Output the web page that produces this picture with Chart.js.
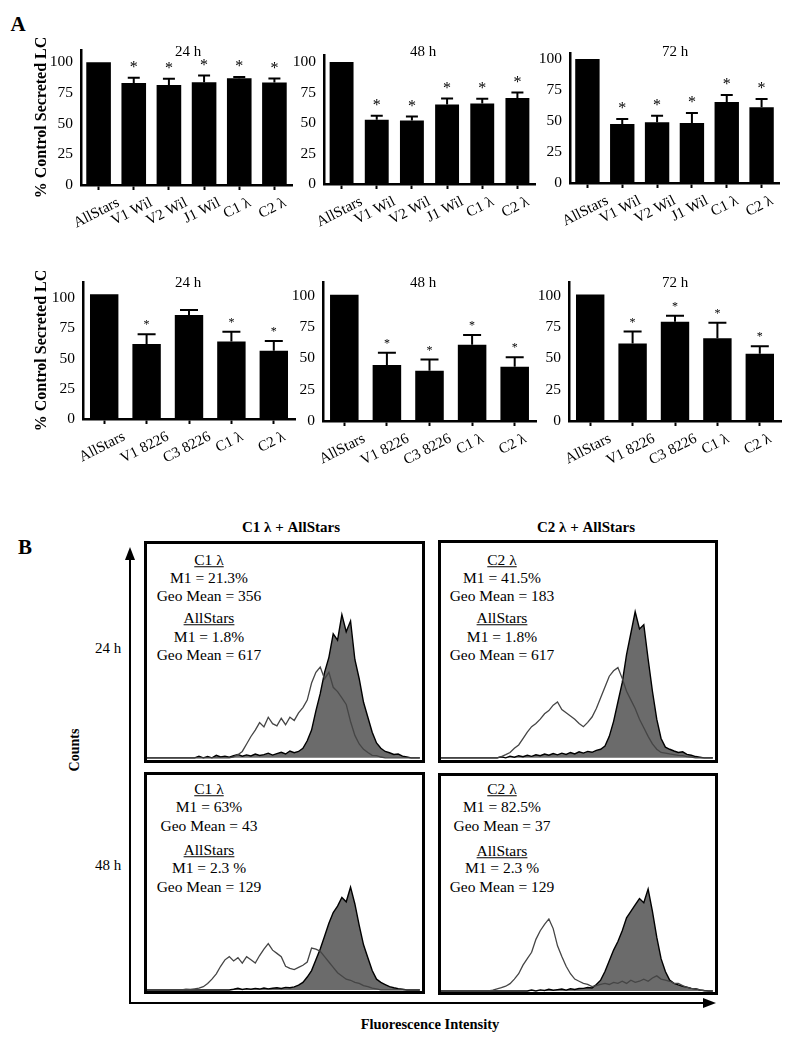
<!DOCTYPE html>
<html><head><meta charset="utf-8">
<script src="https://cdn.jsdelivr.net/npm/chart.js"></script>
<style>
body{margin:0;background:#fff;width:798px;height:1050px;position:relative;overflow:hidden;font-family:'Liberation Serif','Times New Roman',serif;color:#000}
canvas{position:absolute}
.t{position:absolute;transform:translate(-50%,-50%);white-space:nowrap;font-size:15.5px;line-height:1}
.b{font-weight:bold}
.u{text-decoration:underline}
.box{position:absolute;border:3px solid #000;box-sizing:border-box}
</style></head><body>
<svg style="position:absolute;left:0;top:0" width="798" height="1050">
 <line x1="130" y1="1004" x2="130" y2="558" stroke="#000" stroke-width="2"/>
 <polygon points="130,547 125,560 135,560" fill="#000"/>
 <line x1="129" y1="1003" x2="704" y2="1003" stroke="#000" stroke-width="2"/>
 <polygon points="716,1003 703,998 703,1008" fill="#000"/>
</svg>
<div class="t b" style="left:18px;top:24px;font-size:21px">A</div>
<div class="t b" style="left:25px;top:547px;font-size:21px">B</div>
<div class="t b" style="left:291px;top:527px;font-size:15px">C1 λ + AllStars</div>
<div class="t b" style="left:586px;top:527px;font-size:15px">C2 λ + AllStars</div>
<div class="t" style="left:108px;top:648px;font-size:15px">24 h</div>
<div class="t" style="left:108px;top:865px;font-size:15px">48 h</div>
<div class="t b" style="left:75px;top:750px;font-size:14px;transform:translate(-50%,-50%) rotate(-90deg)">Counts</div>
<div class="t b" style="left:430px;top:1024px;font-size:14.5px">Fluorescence Intensity</div>
<div class="box" style="left:144px;top:541px;width:281px;height:222px"></div>
<div class="box" style="left:438px;top:540px;width:280px;height:223px"></div>
<div class="box" style="left:144px;top:772px;width:281px;height:222px"></div>
<div class="box" style="left:438px;top:773px;width:280px;height:222px"></div>
<div id="texts"></div>
<script>
// ---------- DATA ----------
const catsTop = ["AllStars", "V1 Wil", "V2 Wil", "J1 Wil", "C1 λ", "C2 λ"];
const top24 = [100, 83.2, 81.4, 83.8, 87.0, 83.5];
const top24Err = [0, 4.1, 5.1, 5.4, 1.0, 3.3];
const top24Sig = [0, 1, 1, 1, 1, 1];
const top48 = [100, 52.6, 52.0, 65.2, 66.0, 70.4];
const top48Err = [0, 3.4, 3.3, 4.8, 3.8, 4.6];
const top48Sig = [0, 1, 1, 1, 1, 1];
const top72 = [100, 47.6, 49.0, 48.4, 65.3, 61.0];
const top72Err = [0, 4.0, 5.3, 8.1, 5.7, 6.7];
const top72Sig = [0, 1, 1, 1, 1, 1];

const catsBot = ["AllStars", "V1 8226", "C3 8226", "C1 λ", "C2 λ"];
const bot24 = [103, 62.0, 86.0, 64.0, 56.4];
const bot24Err = [0, 8.0, 4.0, 8.0, 8.0];
const bot24Sig = [0, 1, 0, 1, 1];
const bot48 = [100.5, 44.5, 40.0, 60.8, 43.2];
const bot48Err = [0, 9.9, 9.0, 7.7, 7.5];
const bot48Sig = [0, 1, 1, 1, 1];
const bot72 = [100.8, 61.7, 79.0, 66.0, 53.5];
const bot72Err = [0, 9.6, 4.8, 12.2, 6.1];
const bot72Sig = [0, 1, 1, 1, 1];

const yTickValues = [0, 25, 50, 75, 100];

// flow cytometry histograms (64 channels each)
const h24C1 = [0,0,0,0,0,0,0,0,0,0,0,0,0,0,0,0,0,0,0,0,
  0.5,1.5,3,6.5,10,13,16.5,14.5,19,16,
  15,18.5,15.5,19,17.5,21,23.5,27,35,40,
  42.5,37,40,33,31,28,25,17,10.5,6.5,
  4,2.5,1.2,1,0.4,0,0,0,0,0,0,0,0,0];
const h24AllA = [0,0,0,0,0,0,0,0,0,0,0,
  0,0.8,0,0.6,0,1.2,0.4,0.8,0.3,
  1.0,1.6,0.8,1.4,0.9,1.8,1.1,1.5,2.2,1.3,
  2.0,2.6,1.8,3.2,2.4,3.0,4.5,8,13,22,
  30,40,47,58,55,67,59,64,46,37,
  26,19,12,7,4.5,3,2.4,1.6,1.8,0.8,
  0.4,0,0,0];
const h24C2 = [0,0,0,0,0,0,0,0,0,0,0,0,0,0,
  0.6,1.5,2.5,4.5,6,9,
  12,14.5,16,18,20.5,22,24.5,26,22.5,21,
  19.5,18,16,14.5,16.5,19,23,28,33,38,
  40.5,42,37,31,27,23,18,14,10,6.5,
  4,2.5,2.2,1.8,1.5,1.2,1,0.6,0.4,0,
  0,0,0,0];
const h24AllB = [0,0,0,0,0,0,0,0,0,0,0,0,0,0,
  0.5,0,0.8,0.3,1,0.5,
  1.2,0.7,1.4,1,1.8,1.2,2,1.4,2.2,1.6,
  2.5,1.8,2.8,2.2,3,2.6,3.5,4,5.5,10,
  17,26,35,48,58,68,60,62,46,31,
  18,9,5,4,3.2,2.5,2.8,1.6,1.2,0.6,
  0.3,0,0,0];
const h48C1 = [0,0,0,0,0,0,0,0,0,
  0.4,0.2,0.5,0.8,1.5,3,5,7.5,11,14,15.5,
  13.5,15,12.5,15.5,14,12.5,16,19,21.5,18.5,
  17,15.5,11,10,9.5,10.5,11.5,13,19.5,19,
  18,15.5,13,10.5,8,6.5,5,4.5,3.5,3,
  2,1.5,0.8,0.5,0,0,0,0,0,0,0,0,0,0];
const h48AllA = [0,0,0,0,0,0,0,0,0,0,0,0,0,0,0,0,0,0,0,0,
  0.3,0.8,0.2,0.6,0.3,0.7,0.4,0.9,0.5,0.8,
  1.0,0.7,1.2,1.0,1.4,2.2,3.5,6,9,14,
  19,25,31,36,39,43,41,47.8,40,30,
  21,15,9,5,3.5,2.5,1.5,1,0.6,0.3,
  0,0,0,0];
const h48C2 = [0,0,0,0,0,0,0,0,0,0,0,0,
  0.4,1,1.5,2.2,3.4,5.5,8,12,
  15,18,24,28,31,33.5,29,21,16,11.5,
  8,5.5,4.5,3.5,3,2,2.5,3,3.5,3,
  4,3.5,4.5,3.5,5,4,4.5,5.5,4.5,6,
  7,5.5,5,4.5,3.5,3.5,2.5,1.6,1.2,1,
  0.5,0,0,0];
const h48AllB = [0,0,0,0,0,0,0,0,0,0,0,0,0,0,0,0,0,0,0,0,0,
  0.4,0,0.5,0.2,0.8,0.3,0.6,0.9,0.4,
  1.0,0.7,1.1,1.2,1.6,1.4,3,5,9,14,
  19,23,28,34,37,40,43,41,47.4,37,
  25,15,9,5,3.5,2.8,2.2,1.8,1.2,1,
  0.5,0.2,0,0];

// ---------- PLUGINS ----------
const SERIF = "'Liberation Serif','Times New Roman',serif";
Chart.defaults.font.family = SERIF;
Chart.defaults.color = '#000';

const errBars = {
  id: 'errBars',
  afterDatasetsDraw(chart, args, o) {
    if (!o.errors) return;
    const {ctx} = chart; const y = chart.scales.y;
    const meta = chart.getDatasetMeta(0);
    const vals = chart.data.datasets[0].data;
    ctx.save();
    ctx.strokeStyle = '#000'; ctx.fillStyle = '#000'; ctx.lineWidth = 2;
    meta.data.forEach((bar, i) => {
      const e = o.errors[i];
      const yt = y.getPixelForValue(vals[i] + e);
      if (e > 0) {
        ctx.beginPath();
        ctx.moveTo(bar.x, bar.y); ctx.lineTo(bar.x, yt);
        ctx.moveTo(bar.x - o.cap / 2, yt); ctx.lineTo(bar.x + o.cap / 2, yt);
        ctx.stroke();
      }
      if (o.sig[i]) {
        ctx.font = o.starSize + 'px ' + SERIF;
        ctx.textAlign = 'center'; ctx.textBaseline = 'middle';
        ctx.fillText('*', bar.x, yt - o.starGap);
      }
    });
    ctx.restore();
  }
};
const rotLabels = {
  id: 'rotLabels',
  afterDraw(chart, args, o) {
    if (!o.angle) return;
    const {ctx} = chart; const xs = chart.scales.x;
    const a = o.angle * Math.PI / 180;
    ctx.save();
    ctx.font = '15px ' + SERIF; ctx.fillStyle = '#000';
    ctx.textAlign = 'center'; ctx.textBaseline = 'middle';
    chart.data.labels.forEach((lab, i) => {
      const w = ctx.measureText(lab).width;
      const cx = xs.getPixelForTick(i) + o.dx;
      const cy = xs.top + o.gap + (w * Math.sin(a) + 11 * Math.cos(a)) / 2;
      ctx.save(); ctx.translate(cx, cy); ctx.rotate(-a); ctx.fillText(lab, 0, 0); ctx.restore();
    });
    ctx.restore();
  }
};
const panelTitle = {
  id: 'panelTitle',
  afterDraw(chart, args, o) {
    if (!o.text) return;
    const {ctx} = chart;
    ctx.save(); ctx.font = '15px ' + SERIF; ctx.fillStyle = '#000';
    ctx.textAlign = 'center'; ctx.textBaseline = 'middle';
    ctx.fillText(o.text, o.x, o.y); ctx.restore();
  }
};

function makeBar(opt) {
  const a = opt.area;
  const cl = opt.first ? 0 : a.l - 62;
  const ct = a.t - 42;
  const cw = a.r + 10 - cl;
  const ch = a.b + 80 - ct;
  const cv = document.createElement('canvas');
  cv.width = cw; cv.height = ch;
  cv.style.left = cl + 'px'; cv.style.top = ct + 'px';
  document.body.appendChild(cv);
  new Chart(cv, {
    type: 'bar',
    data: {labels: opt.labels, datasets: [{data: opt.values, backgroundColor: '#000', borderWidth: 0, barPercentage: opt.barPct, categoryPercentage: 1}]},
    plugins: [errBars, rotLabels, panelTitle],
    options: {
      responsive: false, animation: false, events: [],
      layout: {padding: {top: 42, right: 10, left: 0, bottom: 0}},
      plugins: {
        legend: {display: false}, tooltip: {enabled: false},
        errBars: {errors: opt.errors, sig: opt.sig, starSize: opt.starSize, starGap: opt.starGap, cap: opt.cap},
        rotLabels: {angle: 27, dx: -2, gap: 12},
        panelTitle: {text: opt.title, x: opt.titleX - cl, y: opt.titleY - ct}
      },
      scales: {
        x: {
          grid: {display: true, drawOnChartArea: false, drawTicks: true, tickLength: 5, tickWidth: 2, tickColor: '#000', offset: false},
          border: {display: true, color: '#000', width: 2.5},
          ticks: {display: false},
          afterFit: s => { s.height = 80; }
        },
        y: {
          min: 0, max: opt.max,
          grid: {display: false, drawTicks: false},
          border: {display: true, color: '#000', width: 2.5},
          ticks: {color: '#000', padding: 8, font: {size: 15.5}},
          afterBuildTicks: s => { s.ticks = yTickValues.map(v => ({value: v})); },
          afterFit: s => { s.width = a.l - cl; },
          title: {display: !!opt.first, text: '% Control Secreted LC', color: '#000', align: 'center', font: {size: 16, weight: 'bold'}, padding: {top: 32, bottom: 0}}
        }
      }
    }
  });
}

makeBar({first: true, labels: catsTop, values: top24, errors: top24Err, sig: top24Sig, area: {l: 81, r: 292, t: 50, b: 185}, max: 110, title: '24 h', titleX: 188, titleY: 52, barPct: 0.7, cap: 12, starSize: 16, starGap: 10});
makeBar({labels: catsTop, values: top48, errors: top48Err, sig: top48Sig, area: {l: 324, r: 535, t: 55, b: 184}, max: 105.7, title: '48 h', titleX: 423, titleY: 52, barPct: 0.68, cap: 12, starSize: 16, starGap: 10});
makeBar({labels: catsTop, values: top72, errors: top72Err, sig: top72Sig, area: {l: 570, r: 779, t: 53, b: 183}, max: 104.8, title: '72 h', titleX: 675, titleY: 52, barPct: 0.7, cap: 12, starSize: 16, starGap: 10});
makeBar({first: true, labels: catsBot, values: bot24, errors: bot24Err, sig: bot24Sig, area: {l: 83, r: 295, t: 282, b: 419}, max: 113.2, title: '24 h', titleX: 188, titleY: 283, barPct: 0.67, cap: 18, starSize: 12, starGap: 9});
makeBar({labels: catsBot, values: bot48, errors: bot48Err, sig: bot48Sig, area: {l: 323, r: 536, t: 282, b: 421}, max: 110.7, title: '48 h', titleX: 423, titleY: 283, barPct: 0.67, cap: 18, starSize: 12, starGap: 9});
makeBar({labels: catsBot, values: bot72, errors: bot72Err, sig: bot72Sig, area: {l: 569, r: 781, t: 282, b: 421}, max: 110.7, title: '72 h', titleX: 675, titleY: 283, barPct: 0.67, cap: 18, starSize: 12, starGap: 9});

function makeHist(left, top, w, h, openData, fillData, ymin) {
  const cv = document.createElement('canvas');
  cv.width = w; cv.height = h;
  cv.style.left = left + 'px'; cv.style.top = top + 'px';
  document.body.appendChild(cv);
  new Chart(cv, {
    type: 'line',
    data: {datasets: [
      {data: openData.map((v, i) => ({x: i, y: v})), borderColor: '#454545', borderWidth: 1.3, fill: false, pointRadius: 0, tension: 0},
      {data: fillData.map((v, i) => ({x: i, y: v})), borderColor: '#000', borderWidth: 1.4, backgroundColor: '#6b6b6b', fill: 'origin', pointRadius: 0, tension: 0}
    ]},
    options: {
      responsive: false, animation: false, events: [],
      layout: {padding: 0},
      plugins: {legend: {display: false}, tooltip: {enabled: false}},
      scales: {
        x: {type: 'linear', display: false, min: 0, max: 63.5},
        y: {display: false, min: ymin, max: 100}
      }
    }
  });
}
makeHist(147, 544, 275, 216, h24C1, h24AllA, -1);
makeHist(441, 543, 274, 217, h24C2, h24AllB, -1);
makeHist(147, 775, 275, 216, h48C1, h48AllA, -0.5);
makeHist(441, 776, 274, 216, h48C2, h48AllB, -0.5);

// annotation texts
const notes = [
  [209, [560, 578, 596, 618, 637, 655], ['C1 λ', 'M1 = 21.3%', 'Geo Mean = 356', 'AllStars', 'M1 = 1.8%', 'Geo Mean = 617']],
  [502, [560, 578, 596, 618, 637, 655], ['C2 λ', 'M1 = 41.5%', 'Geo Mean = 183', 'AllStars', 'M1 = 1.8%', 'Geo Mean = 617']],
  [209, [789, 807, 826, 850, 868, 887], ['C1 λ', 'M1 = 63%', 'Geo Mean = 43', 'AllStars', 'M1 = 2.3 %', 'Geo Mean = 129']],
  [502, [789, 807, 826, 851, 868, 887], ['C2 λ', 'M1 = 82.5%', 'Geo Mean = 37', 'AllStars', 'M1 = 2.3 %', 'Geo Mean = 129']]
];
const host = document.getElementById('texts');
notes.forEach(([x, ys, lines]) => {
  lines.forEach((s, i) => {
    const d = document.createElement('div');
    d.className = 't' + (i % 3 === 0 ? ' u' : '');
    d.style.left = x + 'px'; d.style.top = ys[i] + 'px';
    d.textContent = s;
    host.appendChild(d);
  });
});
</script>
</body></html>
